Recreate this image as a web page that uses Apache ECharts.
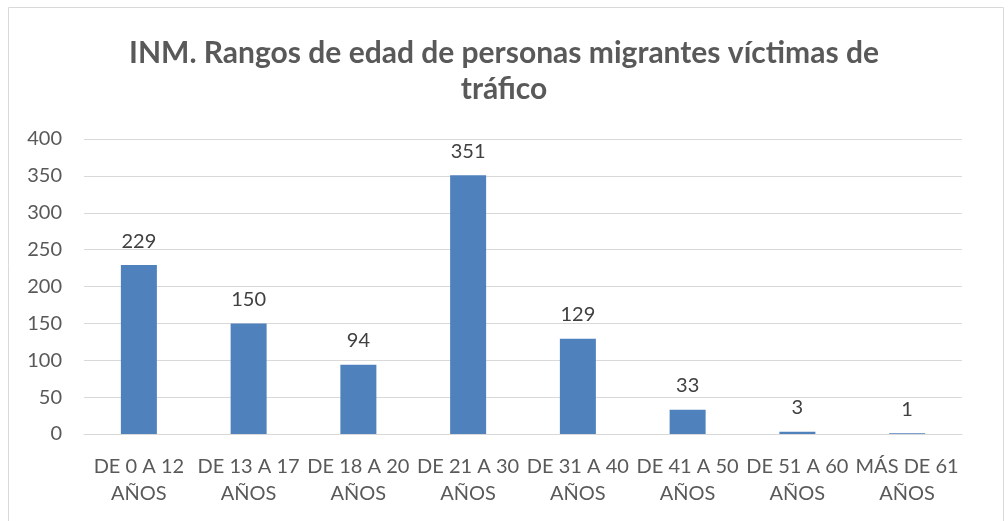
<!DOCTYPE html>
<html><head><meta charset="utf-8">
<script src="https://cdn.jsdelivr.net/npm/echarts@6/dist/echarts.min.js"></script>
<style>html,body{margin:0;padding:0;background:#fff}#c{width:1008px;height:521px}</style>
</head><body><div id="c"></div>
<script>
const categories = ["DE 0 A 12\nAÑOS","DE 13 A 17\nAÑOS","DE 18 A 20\nAÑOS","DE 21 A 30\nAÑOS","DE 31 A 40\nAÑOS","DE 41 A 50\nAÑOS","DE 51 A 60\nAÑOS","MÁS DE 61\nAÑOS"];
const values = [229,150,94,351,129,33,3,1];
const titleText = "INM. Rangos de edad de personas migrantes víctimas de\ntráfico";
const FONT = "Lato, 'Open Sans', sans-serif";
const chart = echarts.init(document.getElementById('c'));
chart.setOption({
  animation:false,
  graphic:[{type:'rect',shape:{x:8.5,y:7.5,width:995,height:520},style:{fill:null,stroke:'#d9d9d9',lineWidth:1},silent:true}],
  title:{text:titleText,left:'center',top:30,textStyle:{fontFamily:FONT,fontSize:30,fontWeight:'bold',color:'#595959',lineHeight:36}},
  grid:{left:84,right:46,top:139,bottom:87},
  xAxis:{type:'category',data:categories,
    axisLine:{lineStyle:{color:'#d9d9d9'}},axisTick:{show:false},
    axisLabel:{interval:0,fontFamily:FONT,fontSize:20,color:'#595959',lineHeight:27,margin:19}},
  yAxis:{type:'value',min:0,max:400,interval:50,
    axisLine:{show:false},axisTick:{show:false},
    splitLine:{lineStyle:{color:'#d9d9d9'}},
    axisLabel:{fontFamily:FONT,fontSize:20,color:'#595959',margin:22}},
  series:[{type:'bar',data:values,barWidth:36,itemStyle:{color:'#4f81bd'},
    label:{show:true,position:'top',distance:14,fontFamily:FONT,fontSize:20,color:'#404040'}}]
});
</script></body></html>
